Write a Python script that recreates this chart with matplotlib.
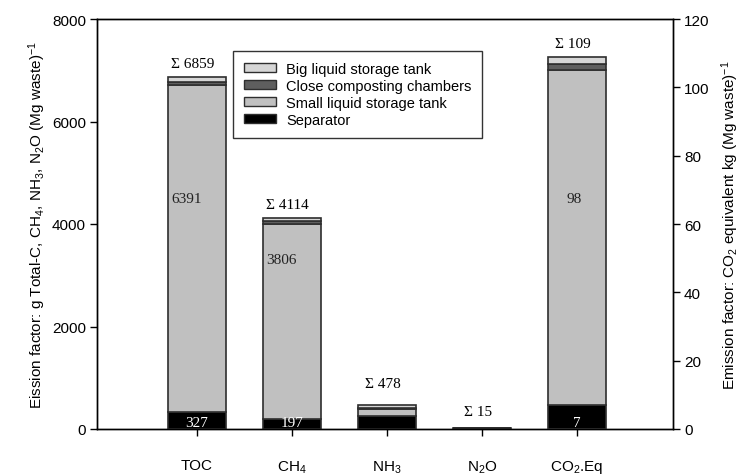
import matplotlib
matplotlib.use("Agg")
import matplotlib.pyplot as plt
from matplotlib.patches import Patch

plt.rcParams["font.family"] = ["Liberation Sans", "DejaVu Sans"]
plt.rcParams["mathtext.fontset"] = "custom"
plt.rcParams["mathtext.rm"] = "Liberation Sans"
plt.rcParams["mathtext.it"] = "Liberation Sans:italic"

# Emission factors per component (CO2.Eq is on the right-hand scale)
categories = ["TOC", "CH$_4$", "NH$_3$", "N$_2$O", "CO$_2$.Eq"]
separator = [327, 197, 255, 5, 7]
small_tank = [6391, 3806, 135, 6, 98]
close_chambers = [61, 50, 18, 1, 1.8]
big_tank = [80, 61, 70, 3, 2.2]
totals = [a + b + c + d for a, b, c, d in zip(separator, small_tank, close_chambers, big_tank)]

# Values printed inside the bars and the height (left-axis units) of the upper one
inner_labels = {0: (327, 6391), 1: (197, 3806), 4: (7, 98)}
inner_label_y = {0: 4500, 1: 3300, 4: 4500}

# Vertical offsets (pixels) of the sum labels above each bar
sum_offsets = [14, 14, 21, 17, 13]

col_sep = "#000000"
col_small = "#c0c0c0"
col_close = "#5e5e5e"
col_big = "#d6d6d6"
edge = "#2e2e2e"

fig = plt.figure(figsize=(7.51, 4.77), dpi=100)
ax = fig.add_axes([97 / 751, 47 / 477, 576 / 751, 410 / 477])
ax2 = ax.twinx()

x = list(range(len(categories)))
width = 0.61

for i in x:
    target = ax2 if i == 4 else ax
    bottom = 0
    for vals, col in ((separator, col_sep), (small_tank, col_small),
                      (close_chambers, col_close), (big_tank, col_big)):
        target.bar(i, vals[i], width, bottom=bottom, color=col,
                   edgecolor=edge, linewidth=1.2, zorder=3)
        bottom += vals[i]

ax.set_xlim(-1.05, 5.01)
ax.set_ylim(0, 8000)
ax2.set_ylim(0, 120)
ax.set_yticks([0, 2000, 4000, 6000, 8000])
ax2.set_yticks([0, 20, 40, 60, 80, 100, 120])
ax.set_xticks(x)
ax.set_xticklabels(categories)

for a in (ax, ax2):
    a.tick_params(direction="out", length=5, width=1, labelsize=11, colors="black")
    for s in a.spines.values():
        s.set_linewidth(1.0)
ax.tick_params(axis="x", pad=16)
ax.tick_params(axis="y", pad=3)
ax2.tick_params(axis="y", pad=3)

ax.set_ylabel("Eission factor: g Total-C, CH$_4$, NH$_3$, N$_2$O (Mg waste)$^{-1}$",
              fontsize=11, labelpad=3)
ax2.set_ylabel("Emission factor: CO$_2$ equivalent kg (Mg waste)$^{-1}$",
               fontsize=11, labelpad=7)

serif = ["Liberation Serif", "DejaVu Serif"]

# Sum labels above the bars
for i in x:
    target = ax2 if i == 4 else ax
    target.annotate(f"\u03a3 {totals[i]:.0f}", xy=(i, totals[i]),
                    xytext=(-3, sum_offsets[i] * 0.72), textcoords="offset points",
                    ha="center", va="center", fontsize=11, family=serif, zorder=5)

# Values printed inside the bars
for i, (sep_v, small_v) in inner_labels.items():
    target = ax2 if i == 4 else ax
    scale = 120 / 8000 if i == 4 else 1
    target.text(i, 135 * scale, f"{sep_v}", color="white", ha="center", va="center",
                fontsize=11, family=serif, zorder=5)
    y_up = inner_label_y[i] * scale
    if i == 4:
        target.text(i - 0.03, y_up, f"{small_v}", color="#222222",
                    ha="center", va="center", fontsize=11, family=serif, zorder=5)
    else:
        target.text(i - width / 2 + 0.04, y_up, f"{small_v}", color="#222222",
                    ha="left", va="center", fontsize=11, family=serif, zorder=5)

handles = [
    Patch(facecolor=col_big, edgecolor=edge, label="Big liquid storage tank"),
    Patch(facecolor=col_close, edgecolor=edge, label="Close composting chambers"),
    Patch(facecolor=col_small, edgecolor=edge, label="Small liquid storage tank"),
    Patch(facecolor=col_sep, edgecolor=edge, label="Separator"),
]
leg = ax2.legend(handles=handles, loc="upper left", bbox_to_anchor=(0.236, 0.922),
                 fontsize=10.5, frameon=True, fancybox=False, edgecolor="black",
                 handlelength=2.2, handleheight=0.6, handletextpad=0.7,
                 labelspacing=0.2, borderpad=0.75, borderaxespad=0)
leg.get_frame().set_linewidth(1.0)
leg.set_zorder(10)

fig.savefig("out.png", dpi=100)
